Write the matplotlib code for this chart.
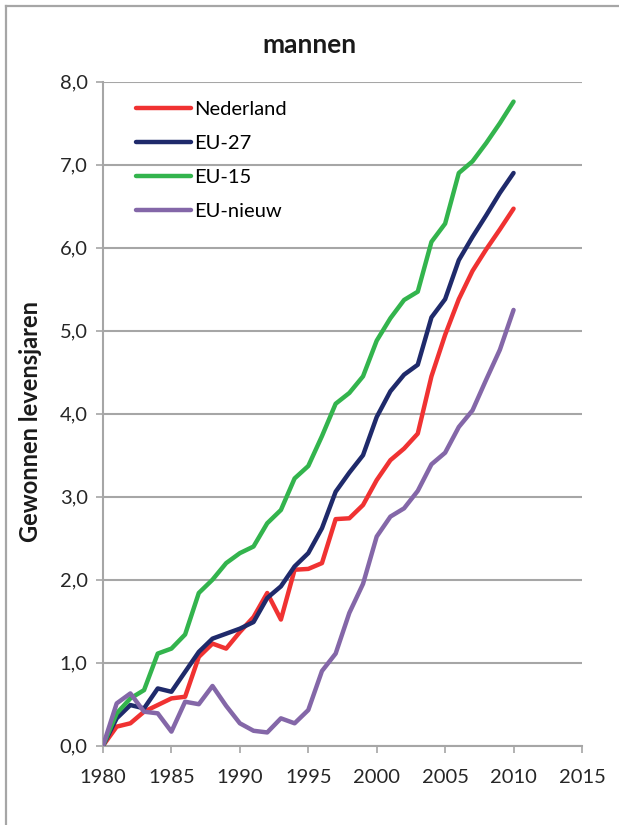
import matplotlib.pyplot as plt
from matplotlib.lines import Line2D

plt.rcParams['font.family'] = ['Lato', 'DejaVu Sans']

# data
jaren = list(range(1980, 2011))
nederland = [0.0, 0.23, 0.27, 0.41, 0.49, 0.57, 0.59, 1.07, 1.23, 1.17,
             1.37, 1.55, 1.84, 1.52, 2.12, 2.13, 2.20, 2.73, 2.74, 2.90,
             3.20, 3.44, 3.58, 3.76, 4.45, 4.95, 5.38, 5.72, 5.98, 6.22, 6.47]
eu27 = [0.0, 0.33, 0.49, 0.45, 0.69, 0.65, 0.89, 1.13, 1.29, 1.35,
        1.41, 1.49, 1.78, 1.92, 2.16, 2.32, 2.62, 3.06, 3.29, 3.50,
        3.96, 4.27, 4.47, 4.59, 5.16, 5.38, 5.85, 6.13, 6.39, 6.66, 6.90]
eu15 = [0.0, 0.39, 0.57, 0.67, 1.11, 1.17, 1.34, 1.84, 2.00, 2.20,
        2.32, 2.40, 2.68, 2.84, 3.22, 3.37, 3.73, 4.12, 4.25, 4.45,
        4.88, 5.15, 5.37, 5.47, 6.07, 6.29, 6.90, 7.04, 7.26, 7.50, 7.76]
eu_nieuw = [0.0, 0.51, 0.63, 0.41, 0.39, 0.17, 0.53, 0.50, 0.72, 0.48,
            0.27, 0.18, 0.16, 0.33, 0.27, 0.43, 0.90, 1.11, 1.60, 1.95,
            2.52, 2.76, 2.86, 3.07, 3.39, 3.53, 3.84, 4.04, 4.41, 4.77, 5.25]

reeksen = ["Nederland", "EU-27", "EU-15", "EU-nieuw"]
kleuren = ["#f03232", "#1f2a6b", "#33b44d", "#8467a8"]
x_ticks = [1980, 1985, 1990, 1995, 2000, 2005, 2010, 2015]
y_ticks = [0, 1, 2, 3, 4, 5, 6, 7, 8]

grijs = "#a6a6a6"

fig = plt.figure(figsize=(6.19, 8.25), dpi=100)
ax = fig.add_axes([0.1664, 0.0961, 0.7738, 0.8049])

for naam, waarden, kleur in zip(reeksen, [nederland, eu27, eu15, eu_nieuw], kleuren):
    ax.plot(jaren, waarden, color=kleur, lw=3.2, label=naam,
            solid_joinstyle="round", solid_capstyle="round", zorder=3)

ax.set_xlim(1980, 2015)
ax.set_ylim(0, 8)
ax.set_xticks(x_ticks)
ax.set_yticks(y_ticks)
ax.set_yticklabels([f"{v:.1f}".replace(".", ",") for v in y_ticks])
ax.grid(axis="y", color=grijs, lw=1.5, zorder=0)
ax.tick_params(axis="both", colors=grijs, length=5, width=1.2, labelcolor="#262626",
               labelsize=14.5)
ax.tick_params(axis="x", pad=12)
ax.tick_params(axis="y", pad=6)
for kant in ["top", "right"]:
    ax.spines[kant].set_visible(False)
for kant in ["left", "bottom"]:
    ax.spines[kant].set_color(grijs)
    ax.spines[kant].set_linewidth(1.5)

ax.legend(loc="upper left", bbox_to_anchor=(0.052, 0.983), frameon=False,
          fontsize=14.5, handlelength=2.74, handletextpad=0.15, labelspacing=0.83,
          borderaxespad=0)

fig.text(0.50, 0.945, "mannen", ha="center", va="center", fontsize=19,
         fontweight="bold", color="#1a1a1a")
fig.text(0.050, 0.489, "Gewonnen levensjaren", ha="center", va="center",
         rotation=90, fontsize=17, fontweight="bold", color="#1a1a1a")

# rand om de figuur (links en boven)
fig.add_artist(Line2D([6 / 619, 6 / 619], [0, 1 - 6 / 825], color=grijs, lw=1.6))
fig.add_artist(Line2D([6 / 619, 1], [1 - 6 / 825, 1 - 6 / 825], color=grijs, lw=1.6))

fig.savefig("out.png", dpi=100)
